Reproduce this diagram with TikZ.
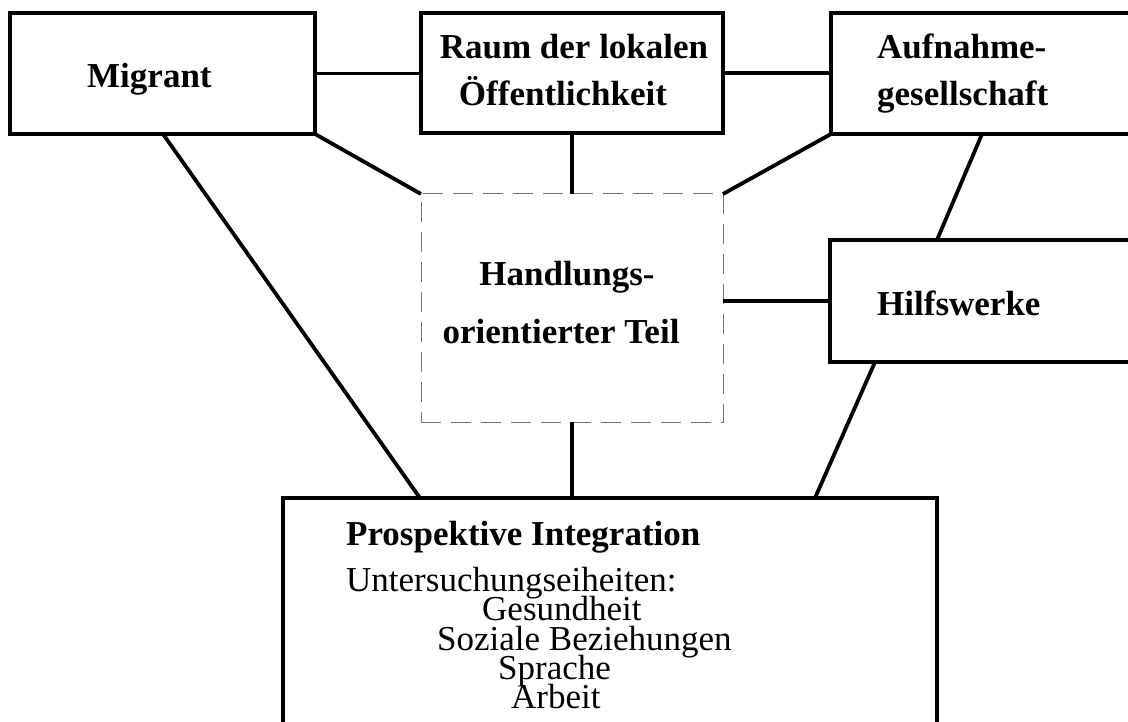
\documentclass[tikz,border=0pt]{standalone}
\usepackage{fontspec}
\setmainfont{Liberation Serif}
\usetikzlibrary{calc}
\tikzset{
  box/.style={draw=black, line width=3.8pt, rectangle, inner sep=0pt, outer sep=0pt, anchor=north west},
  dbox/.style={draw=black!55, line width=1pt, dash pattern=on 20pt off 10pt, rectangle, inner sep=0pt, outer sep=0pt, anchor=north west},
  conn/.style={draw=black, line width=3.8pt},
  lbl/.style={font=\fontsize{35}{35}\selectfont\bfseries, inner sep=0pt, anchor=base west},
  txt/.style={font=\fontsize{35}{35}\selectfont, inner sep=0pt, anchor=base west}
}
\begin{document}
\begin{tikzpicture}[x=1pt,y=-1pt]
\useasboundingbox (0,0) rectangle (1128,722);
\clip (0,0) rectangle (1128,722);
% boxes
\node[box, minimum width=305pt, minimum height=121pt] (mig) at (10,13) {};
\node[box, minimum width=302pt, minimum height=120pt] (raum) at (421,13) {};
\node[box, minimum width=320pt, minimum height=121pt] (auf) at (831,13) {};
\node[dbox, minimum width=302pt, minimum height=228pt] (hand) at (421,194) {};
\node[box, minimum width=320pt, minimum height=122pt] (hilf) at (830,240) {};
\node[box, minimum width=654pt, minimum height=260pt] (pro) at (283,498) {};
% connectors
\draw[conn] (mig.east) -- (mig.east -| raum.west);
\draw[conn] (raum.east) -- (raum.east -| auf.west);
\draw[conn] (mig.south east) -- (hand.north west);
\draw[conn] (raum.south) -- (hand.north);
\draw[conn] (auf.south west) -- (hand.north east);
\draw[conn] ($(auf.south west)+(151,0)$) -- ($(hilf.north west)+(107,0)$);
\coordinate (hr) at ($(hand.north east)+(0,107)$);
\draw[conn] (hr) -- (hr -| hilf.west);
\draw[conn] (hand.south) -- (hand.south |- pro.north);
\draw[conn] ($(mig.south west)+(153,0)$) -- ($(pro.north west)+(137,0)$);
\draw[conn] ($(hilf.south west)+(45,0)$) -- ($(pro.north west)+(532,0)$);
% labels
\node[lbl] (tmig) at (87,88) {Migrant};
\node[lbl, anchor=base] (traum1) at (574,59) {Raum der lokalen};
\node[lbl, anchor=base] (traum2) at (563,106) {Öffentlichkeit};
\node[lbl] (tauf1) at (877,59) {Aufnahme-};
\node[lbl] (tauf2) at (877,106) {gesellschaft};
\node[lbl, anchor=base] (thand1) at (567,286) {Handlungs-};
\node[lbl, anchor=base] (thand2) at (561,344) {orientierter Teil};
\node[lbl] (thilf) at (877,316) {Hilfswerke};
\node[lbl] (tpro) at (346,545) {Prospektive Integration};
\node[txt] (tu) at (346,591) {Untersuchungseiheiten:};
\node[txt] (tg) at (482,620) {Gesundheit};
\node[txt] (ts) at (437,650) {Soziale Beziehungen};
\node[txt] (tsp) at (498,679) {Sprache};
\node[txt] (ta) at (511,708) {Arbeit};
\end{tikzpicture}
\end{document}
